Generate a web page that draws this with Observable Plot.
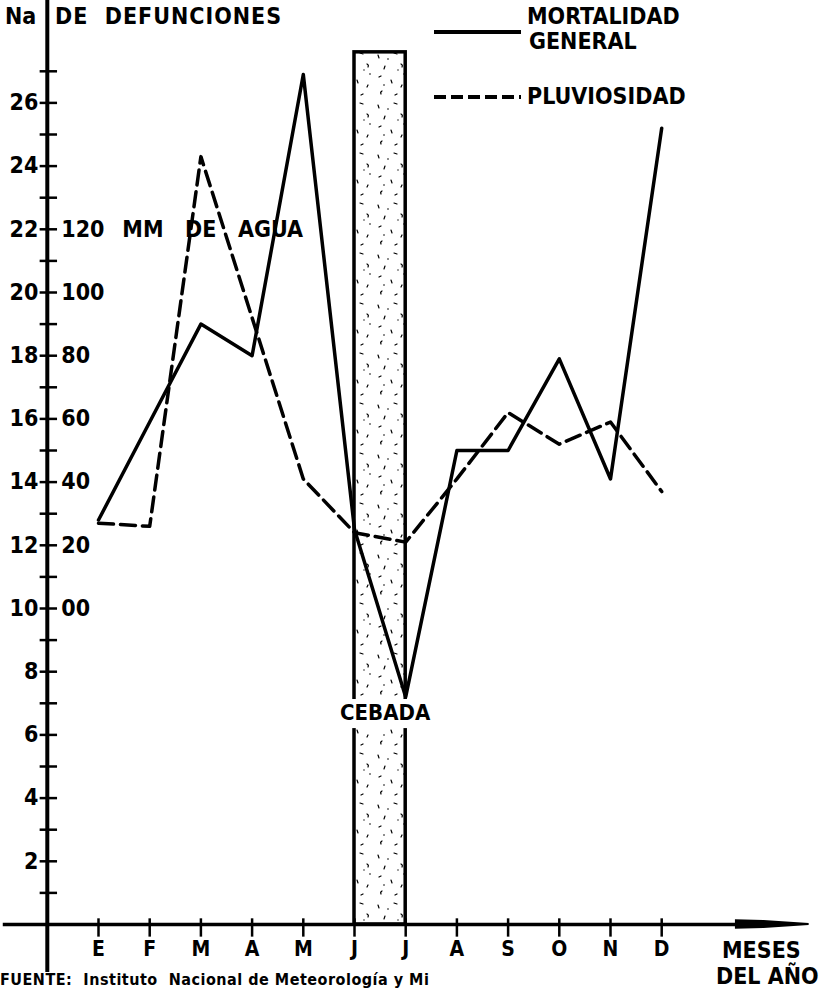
<!DOCTYPE html>
<html><head><meta charset="utf-8">
<script src="https://cdn.jsdelivr.net/npm/d3@7"></script>
<script src="https://cdn.jsdelivr.net/npm/@observablehq/plot@0.6"></script>
<style>
body{margin:0;background:#fff;overflow:hidden}
#wrap{position:relative;width:823px;height:990px;overflow:hidden;font-family:"DejaVu Sans Condensed","DejaVu Sans",sans-serif;font-weight:bold;color:#000}
.t{position:absolute;white-space:pre;line-height:1}
svg text{white-space:pre}
</style></head><body><div id="wrap"></div>
<script>
// ---- data ----
const months = ["E","F","M","A","M","J","J","A","S","O","N","D"];
const mortalidad = [12.8, 15.9, 19.0, 18.0, 26.9, 12.5, 7.2, 15.0, 15.0, 17.9, 14.1, 25.2]; // nº de defunciones
const pluviosidad = [27, 26, 143, 92, 41, 24, 21, 41, 62, 52, 59, 37]; // mm de agua
const yTicksMajor = [2,4,6,8,10,12,14,16,18,20,22,24,26];
const yTicksAll = d3.range(1, 28);
const mmTicks = [0,20,40,60,80,100,120];
const mmLabels = ["00","20","40","60","80","100","120"];
const cebada = [{from: 5, to: 6, label: "CEBADA"}];

// mm -> position on deaths scale (10 deaths = 0 mm, 2 deaths per 20 mm)
const mm2y = mm => 10 + mm / 10;

const sol = months.map((m, i) => ({i, v: mortalidad[i]}));
const dash = months.map((m, i) => ({i, v: mm2y(pluviosidad[i])}));

const X0 = 98, DX = 51.2, Y0 = 924, DY = 31.6, W = 823, H = 990;

const chart = Plot.plot({
  width: W, height: H,
  margin: 0,
  x: {type: "linear", domain: [-X0 / DX, (W - X0) / DX], axis: null},
  y: {type: "linear", domain: [(Y0 - H) / DY, Y0 / DY], axis: null},
  style: {fontFamily: "'DejaVu Sans Condensed','DejaVu Sans',sans-serif", fontWeight: "bold", fontSize: "22px", color: "#000", background: "#fff"},
  marks: [
    // barley harvest bar
    Plot.rect(cebada, {x1: "from", x2: "to", y1: 0, y2: 27.6, fill: "url(#stip)", stroke: "#000", strokeWidth: 3.5}),
    Plot.rect(cebada, {x1: d => d.from - 0.1, x2: d => d.to + 0.1, y1: 6.2, y2: 7.12, fill: "#fff"}),
    // axes
    Plot.ruleX([-1], {y1: -1.52, y2: 29.4, strokeWidth: 4}),
    Plot.ruleY(yTicksAll, {y: d => d, x1: -1.14, x2: -0.8, strokeWidth: 2.5}),
    Plot.ruleY([0], {y: d => d, x1: -1.86, x2: 12.6, strokeWidth: 3.5}),
    Plot.areaY([{x: 12.44, a: -0.15, b: 0.15}, {x: 13.0, a: -0.13, b: 0.13}, {x: 13.88, a: -0.03, b: 0.03}], {x: "x", y1: "a", y2: "b", fill: "#000"}),
    Plot.ruleX(months.map((m, i) => i), {x: d => d, y1: -0.4, y2: 0.18, strokeWidth: 2.5}),
    Plot.text(months, {x: (d, i) => i, y: 0, dy: 25, text: d => d, fontSize: 21}),
    Plot.text(yTicksMajor, {x: -1, y: d => d, text: d => String(d), textAnchor: "end", dx: -9, fontSize: 23}),
    Plot.text(mmTicks, {x: -1, y: d => mm2y(d), text: (d, i) => mmLabels[i], textAnchor: "start", dx: 14, fontSize: 23}),
    Plot.text(["MM   DE   AGUA"], {x: -1, y: mm2y(120), text: d => d, textAnchor: "start", dx: 75, fontSize: 23}),
    // series
    Plot.line(dash, {x: "i", y: "v", stroke: "#000", strokeWidth: 3.5, strokeDasharray: "15,7"}),
    Plot.line(sol, {x: "i", y: "v", stroke: "#000", strokeWidth: 3.5}),
    Plot.text(cebada, {x: d => (d.from + d.to) / 2, y: 6.7, dx: 5, text: "label", fontSize: 22})
  ]
});

d3.select(chart).insert("defs", ":first-child").html(`
<pattern id="stip" patternUnits="userSpaceOnUse" width="34" height="50">
<path d="M4 5 l1 3 M20 3 l3 1 M11 16 l-1 3 M27 14 q2 1 1 3 M5 27 l2 -1 M17 30 l1 3 M28 35 l-1 2 M8 41 q-2 1 -1 3 M21 45 l2 -1"
 stroke="#000" stroke-width="1.2" fill="none" stroke-linecap="round"/>
<circle cx="14" cy="9" r="0.8"/><circle cx="30" cy="24" r="0.8"/><circle cx="10" cy="35" r="0.8"/><circle cx="24" cy="20" r="0.7"/>
</pattern>`);

const wrap = document.getElementById("wrap");
wrap.appendChild(chart);
chart.style.position = "absolute"; chart.style.left = "0"; chart.style.top = "0";

function label(txt, left, top, size, extra) {
  const d = document.createElement("div");
  d.className = "t"; d.textContent = txt;
  d.style.left = left + "px"; d.style.top = top + "px"; d.style.fontSize = size + "px";
  if (extra) Object.assign(d.style, extra);
  wrap.appendChild(d);
}
label("Na", 5, 5, 23);
label("DE  DEFUNCIONES", 55, 5, 23, {letterSpacing: "1px"});
label("MORTALIDAD", 527, 5, 23);
label("GENERAL", 529, 30, 23);
label("PLUVIOSIDAD", 527, 85, 23);
label("MESES", 722, 939, 23);
label("DEL AÑO", 716, 965, 23);
label("FUENTE:  Instituto  Nacional de Meteorología y Mi", 0, 972, 16, {letterSpacing: "0.5px"});

// legend keys
function key(top, dasharray) {
  const s = d3.create("svg").attr("width", 92).attr("height", 8)
    .style("position", "absolute").style("left", "433px").style("top", top + "px");
  s.append("line").attr("x1", 1).attr("x2", 88).attr("y1", 4).attr("y2", 4)
    .attr("stroke", "#000").attr("stroke-width", 4).attr("stroke-dasharray", dasharray || null);
  wrap.appendChild(s.node());
}
key(28);
key(93, "12,5");
</script></body></html>
